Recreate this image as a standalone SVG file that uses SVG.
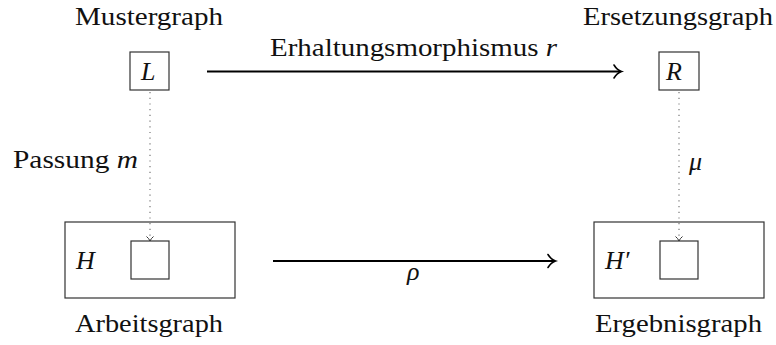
<svg xmlns="http://www.w3.org/2000/svg" width="776" height="345" viewBox="0 0 776 345">
<style>
text{font-family:"Liberation Serif","Times New Roman",serif;font-size:26px;fill:#111}
.it{font-style:italic}
.box{fill:#fff;stroke:#333;stroke-width:1.2}
.arr{stroke:#000;stroke-width:2;fill:none}
.dot{stroke:#777;stroke-width:1.2;stroke-dasharray:1.2 4.5;fill:none}
.head{stroke:#333;stroke-width:1;fill:none}
.ahead{stroke:#000;stroke-width:1.6;fill:none;stroke-linecap:round}
</style>
<rect width="776" height="345" fill="#fff"/>
<g font-family="Liberation Serif" font-size="26">
<g id="L">
<text x="75" y="25" textLength="148" lengthAdjust="spacingAndGlyphs">Mustergraph</text>
<rect class="box" x="130" y="52" width="39" height="38"/>
<text class="it" x="141" y="80">L</text>
</g>
<g id="R">
<text x="583" y="25" textLength="190" lengthAdjust="spacingAndGlyphs">Ersetzungsgraph</text>
<rect class="box" x="659" y="52" width="40" height="38"/>
<text class="it" x="666" y="80">R</text>
</g>
<g id="H">
<rect class="box" x="65" y="222" width="170" height="76"/>
<text class="it" x="76" y="269">H</text>
<rect class="box" x="131" y="241" width="38" height="38"/>
<text x="75" y="332" textLength="148" lengthAdjust="spacingAndGlyphs">Arbeitsgraph</text>
</g>
<g id="Hp">
<rect class="box" x="594" y="222" width="170" height="76"/>
<text class="it" x="605" y="269">H′</text>
<rect class="box" x="660" y="241" width="38" height="38"/>
<text x="595" y="332" textLength="167" lengthAdjust="spacingAndGlyphs">Ergebnisgraph</text>
</g>
<g id="connectors">
<line class="arr" x1="207" y1="71.5" x2="620" y2="71.5"/>
<path class="ahead" d="M614,65 Q617,70 621.5,71.5 Q617,73 614,78"/>
<text x="270" y="56" textLength="287" lengthAdjust="spacingAndGlyphs">Erhaltungsmorphismus <tspan class="it">r</tspan></text>
<line class="arr" x1="273" y1="261" x2="554" y2="261"/>
<path class="ahead" d="M548,254.5 Q551,259.5 555.5,261 Q551,262.5 548,267.5"/>
<text class="it" x="407" y="280">ρ</text>
<line class="dot" x1="150" y1="92" x2="150" y2="240"/>
<path class="head" d="M146.5,236.5 Q149,238.5 150,241 Q151,238.5 153.5,236.5"/>
<text x="13" y="168" textLength="125" lengthAdjust="spacingAndGlyphs">Passung <tspan class="it">m</tspan></text>
<line class="dot" x1="679" y1="92" x2="679" y2="240"/>
<path class="head" d="M675.5,236.5 Q678,238.5 679,241 Q680,238.5 682.5,236.5"/>
<text class="it" x="689" y="170">μ</text>
</g>
</g>
</svg>
